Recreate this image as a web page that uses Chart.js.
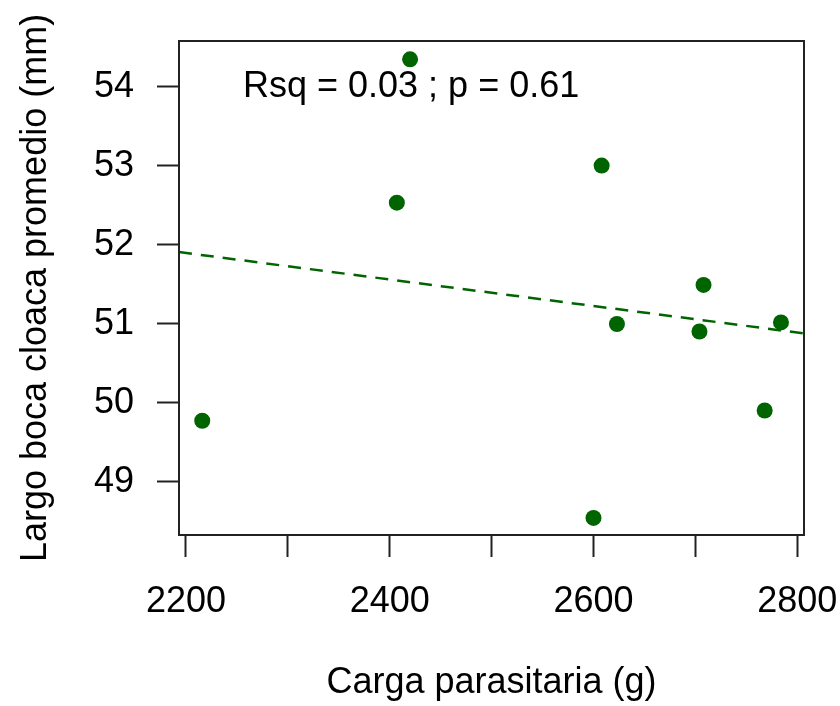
<!DOCTYPE html>
<html>
<head>
<meta charset="utf-8">
<script src="https://cdn.jsdelivr.net/npm/chart.js@4.4.1/dist/chart.umd.min.js"></script>
<style>
  html, body { margin: 0; padding: 0; background: #ffffff; }
  #c { display: block; }
</style>
</head>
<body>
<canvas id="c" width="840" height="706"></canvas>
<script>
// ---- data ----
const cargaParasitaria = [2216, 2407, 2420, 2600, 2608, 2623, 2704, 2708, 2768, 2784];
const largoBocaCloaca = [49.77, 52.53, 54.345, 48.54, 53.0, 50.995, 50.90, 51.49, 49.90, 51.015];

// fitted regression line (dashed), endpoints at axis limits
const fitX = [2193.2, 2806.6];
const fitY = [51.905, 50.876];

// axis limits and ticks
const xLimits = [2193.2, 2806.6];
const yLimits = [48.324, 54.577];
const xTickValues = [2200, 2300, 2400, 2500, 2600, 2700, 2800];
const xTickLabels = ['2200', '', '2400', '', '2600', '', '2800'];
const yTickValues = [49, 50, 51, 52, 53, 54];
const yTickLabels = ['49', '50', '51', '52', '53', '54'];

const xTitle = 'Carga parasitaria (g)';
const yTitle = 'Largo boca cloaca promedio (mm)';
const annotText = 'Rsq = 0.03 ; p = 0.61';
const annotPos = [2421, 54.0];

// ---- chart ----
const FONT = '"Liberation Sans", Arial, Helvetica, sans-serif';
const GREEN = '#006400';

const boxPlugin = {
  id: 'boxPlugin',
  afterDatasetsDraw(chart) {
    const { ctx, chartArea: a, scales } = chart;
    ctx.save();
    ctx.fillStyle = '#000';
    ctx.font = '36px ' + FONT;
    ctx.textAlign = 'center';
    ctx.textBaseline = 'middle';
    ctx.fillText(annotText, scales.x.getPixelForValue(annotPos[0]), scales.y.getPixelForValue(annotPos[1]));
    ctx.strokeStyle = '#222';
    ctx.lineWidth = 2;
    ctx.strokeRect(a.left, a.top, a.right - a.left, a.bottom - a.top);
    ctx.restore();
  }
};

new Chart(document.getElementById('c'), {
  type: 'scatter',
  data: {
    datasets: [
      {
        type: 'line',
        data: fitX.map((x, i) => ({ x: x, y: fitY[i] })),
        borderColor: GREEN,
        borderWidth: 2.5,
        borderDash: [13, 9],
        pointRadius: 0,
        fill: false,
        tension: 0,
        order: 2
      },
      {
        data: cargaParasitaria.map((x, i) => ({ x: x, y: largoBocaCloaca[i] })),
        backgroundColor: GREEN,
        borderColor: GREEN,
        borderWidth: 0,
        pointRadius: 8,
        pointHoverRadius: 8,
        order: 1
      }
    ]
  },
  options: {
    responsive: false,
    animation: false,
    events: [],
    layout: { padding: { top: 41, right: 36, left: 0, bottom: 0 } },
    plugins: { legend: { display: false }, tooltip: { enabled: false } },
    scales: {
      x: {
        type: 'linear',
        min: xLimits[0],
        max: xLimits[1],
        border: { display: false },
        grid: { display: true, drawOnChartArea: false, drawTicks: true, tickLength: 22, tickColor: '#222', tickWidth: 2 },
        afterBuildTicks(s) { s.ticks = xTickValues.map(v => ({ value: v })); },
        afterFit(s) { s.height = 171; s.paddingLeft = 0; s.paddingRight = 0; },
        ticks: {
          autoSkip: false,
          maxRotation: 0,
          minRotation: 0,
          padding: 23,
          color: '#000',
          font: { family: FONT, size: 36 },
          callback(v) { const i = xTickValues.indexOf(v); return i >= 0 ? xTickLabels[i] : ''; }
        },
        title: { display: true, text: xTitle, color: '#000', font: { family: FONT, size: 36 }, padding: { top: 0, bottom: 1 } }
      },
      y: {
        type: 'linear',
        min: yLimits[0],
        max: yLimits[1],
        border: { display: false },
        grid: { display: true, drawOnChartArea: false, drawTicks: true, tickLength: 22, tickColor: '#222', tickWidth: 2 },
        afterBuildTicks(s) { s.ticks = yTickValues.map(v => ({ value: v })); },
        afterFit(s) { s.width = 179; s.paddingTop = 0; s.paddingBottom = 0; },
        ticks: {
          autoSkip: false,
          padding: 23,
          color: '#000',
          font: { family: FONT, size: 36 },
          callback(v) { const i = yTickValues.indexOf(v); return i >= 0 ? yTickLabels[i] : ''; }
        },
        title: { display: true, text: yTitle, color: '#000', font: { family: FONT, size: 36 }, padding: { top: 14, bottom: 0 } }
      }
    }
  },
  plugins: [boxPlugin]
});
</script>
</body>
</html>
